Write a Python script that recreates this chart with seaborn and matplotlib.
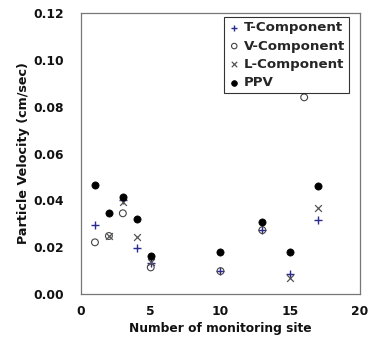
import matplotlib
matplotlib.use("Agg")
import matplotlib.pyplot as plt
import seaborn as sns
import pandas as pd

sns.set_theme(style="white")
plt.rcParams['font.family'] = ['DejaVu Sans']

t_sites = [1, 3, 4, 5, 10, 13, 15, 17]
t_vals = [0.0295, 0.0400, 0.0195, 0.0131, 0.0098, 0.0273, 0.0085, 0.0316]
v_sites = [1, 2, 3, 5, 10, 13, 16]
v_vals = [0.0221, 0.0248, 0.0345, 0.0114, 0.0098, 0.0273, 0.0840]
l_sites = [2, 3, 4, 5, 15, 17]
l_vals = [0.0248, 0.0392, 0.0245, 0.0135, 0.0067, 0.0366]
ppv_sites = [1, 2, 3, 4, 5, 10, 13, 15, 17]
ppv_vals = [0.0466, 0.0345, 0.0416, 0.0319, 0.0162, 0.0178, 0.0306, 0.0178, 0.0462]

fig = plt.figure(figsize=(3.76, 3.46), dpi=100)
ax = fig.add_axes([0.2154, 0.150, 0.742, 0.8124])

sns.scatterplot(x=t_sites, y=t_vals, ax=ax, marker='+', color='#2b2b8f',
                s=26, linewidth=1.0, label='T-Component', zorder=3)
sns.scatterplot(x=v_sites, y=v_vals, ax=ax, marker='o', facecolor='none',
                edgecolor='#444444', s=24, linewidth=0.8, label='V-Component', zorder=3)
sns.scatterplot(x=l_sites, y=l_vals, ax=ax, marker='x', color='#555555',
                s=24, linewidth=0.9, label='L-Component', zorder=3)
sns.scatterplot(x=ppv_sites, y=ppv_vals, ax=ax, marker='o', color='black',
                edgecolor='black', s=27, linewidth=0.5, label='PPV', zorder=4)

ax.set_xlim(0, 20)
ax.set_ylim(0, 0.12)
ax.set_xticks([0, 5, 10, 15, 20])
ax.set_yticks([0.0, 0.02, 0.04, 0.06, 0.08, 0.10, 0.12])
ax.set_yticklabels(['0.00', '0.02', '0.04', '0.06', '0.08', '0.10', '0.12'])
for lab in ax.get_xticklabels() + ax.get_yticklabels():
    lab.set_fontweight('bold')
    lab.set_fontsize(8.8)
    lab.set_color('#111111')
ax.tick_params(direction='in', length=4, width=0.8, color='#555555', pad=8)
ax.tick_params(axis='y', pad=12)
for sp in ax.spines.values():
    sp.set_color('#777777')
    sp.set_linewidth(0.9)

ax.set_xlabel('Number of monitoring site', fontsize=8.8, fontweight='bold', color='#111111', labelpad=3)
ax.set_ylabel('Particle Velocity (cm/sec)', fontsize=9.2, fontweight='bold', color='#111111', labelpad=3)

leg = ax.legend(loc='upper right', bbox_to_anchor=(0.96, 0.985), frameon=True,
                fancybox=False, edgecolor='black', borderaxespad=0,
                handletextpad=0.2, labelspacing=0.4, borderpad=0.3, handlelength=1.0,
                markerscale=0.8, prop={'weight': 'bold', 'size': 9.6})
leg.get_frame().set_linewidth(0.8)

fig.savefig('out.png', dpi=100)
